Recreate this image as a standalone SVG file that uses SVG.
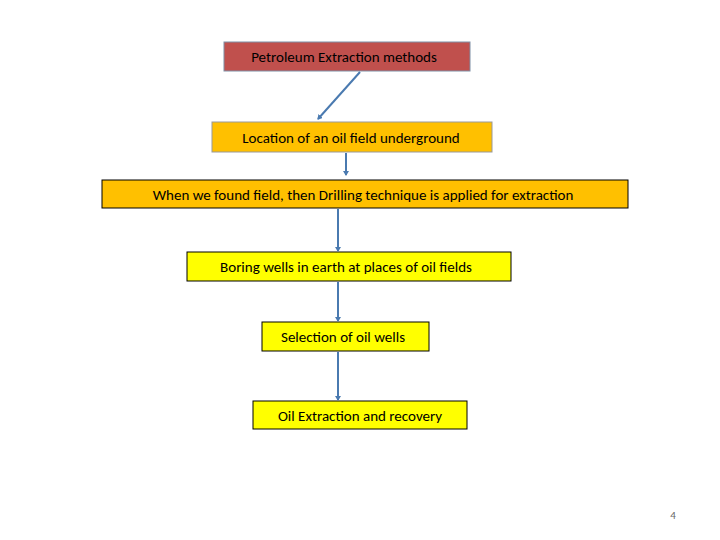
<svg xmlns="http://www.w3.org/2000/svg" width="720" height="540" viewBox="0 0 720 540">
<style>
text{font-family:Calibri,Carlito,"Liberation Sans",sans-serif;font-size:15px;fill:#000;text-anchor:middle}
.c{stroke:#4a7ab0;stroke-width:2;fill:none;marker-end:url(#a)}
.o{fill:#ffc000}
.y{fill:#ffff00;stroke:#000;stroke-width:1}
</style>
<defs><marker id="a" markerWidth="6" markerHeight="6" refX="4" refY="3" orient="auto" markerUnits="userSpaceOnUse"><path d="M0,0L5,3L0,6z" fill="#4a7ab0"/></marker></defs>
<rect width="720" height="540" fill="#fff"/>
<g id="n1"><rect x="224" y="42" width="246" height="29" fill="#c0504d" stroke="#7f8fa6"/><text x="344" y="62">Petroleum Extraction methods</text></g>
<g id="n2"><rect x="212" y="122" width="280" height="30" class="o" stroke="#999"/><text x="351" y="143">Location of an oil field underground</text></g>
<g id="n3"><rect x="102" y="180" width="526" height="28" class="o" stroke="#000"/><text x="363" y="200">When we found field, then Drilling technique is applied for extraction</text></g>
<g id="n4"><rect x="187" y="252" width="324" height="29" class="y"/><text x="346" y="272">Boring wells in earth at places of oil fields</text></g>
<g id="n5"><rect x="262" y="322" width="167" height="29" class="y"/><text x="343" y="342">Selection of oil wells</text></g>
<g id="n6"><rect x="253" y="401" width="214" height="28" class="y"/><text x="360" y="421">Oil Extraction and recovery</text></g>
<g id="connectors">
<path class="c" d="M360,72L318,119"/>
<path class="c" d="M346,153L346,175"/>
<path class="c" d="M338,209L338,251"/>
<path class="c" d="M338,282L338,321"/>
<path class="c" d="M338,352L338,400"/>
</g>
<text x="673" y="519" style="font-size:11px;fill:#666">4</text>
</svg>
